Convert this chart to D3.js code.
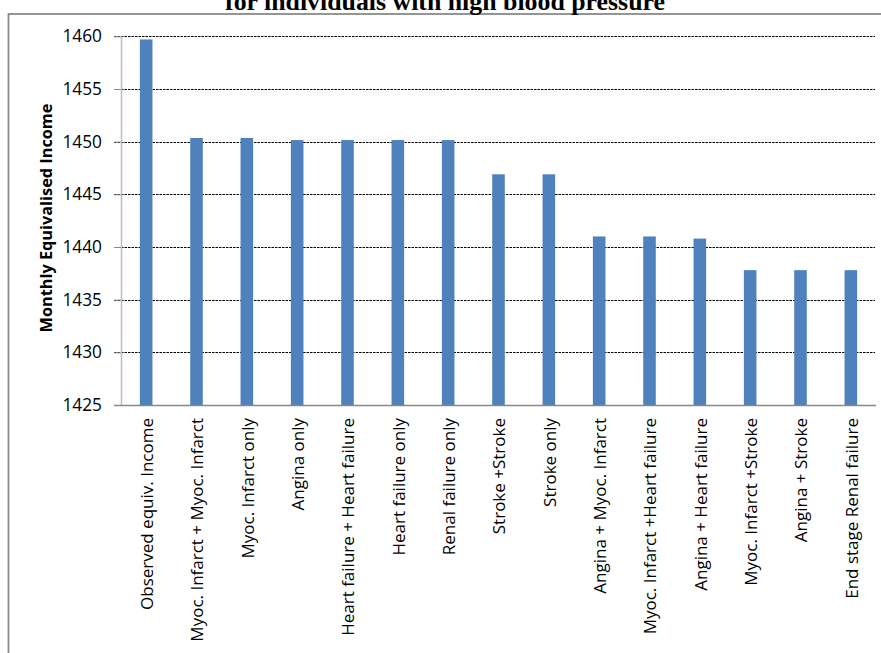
<!DOCTYPE html>
<html>
<head>
<meta charset="utf-8">
<script src="https://cdn.jsdelivr.net/npm/d3@7"></script>
<style>
  html, body { margin: 0; padding: 0; background: #fff; overflow: hidden; }
  svg { display: block; }
</style>
</head>
<body>
<script>
const categories = [
  "Observed equiv. Income",
  "Myoc. Infarct + Myoc. Infarct",
  "Myoc. Infarct only",
  "Angina only",
  "Heart failure + Heart failure",
  "Heart failure only",
  "Renal failure only",
  "Stroke +Stroke",
  "Stroke only",
  "Angina + Myoc. Infarct",
  "Myoc. Infarct +Heart failure",
  "Angina + Heart failure",
  "Myoc. Infarct +Stroke",
  "Angina + Stroke",
  "End stage Renal failure"
];
const incomeValues = [1459.7, 1450.35, 1450.35, 1450.15, 1450.15, 1450.15, 1450.15, 1446.9, 1446.9, 1441.0, 1441.0, 1440.8, 1437.8, 1437.8, 1437.8];
const yTicks = [1425, 1430, 1435, 1440, 1445, 1450, 1455, 1460];
const titleText = "for individuals with high blood pressure";
const yAxisTitle = "Monthly Equivalised Income";

const W = 881, H = 653;
const svg = d3.select("body").append("svg").attr("width", W).attr("height", H);

// chart border
svg.append("rect").attr("x", 8.5).attr("y", 14).attr("width", 900).attr("height", 700)
  .attr("fill", "none").attr("stroke", "#8a8a8a").attr("stroke-width", 1.8);

const plot = { left: 121, right: 876, top: 36.3, bottom: 405 };

const x = d3.scaleBand().domain(categories).range([plot.left, plot.right]).paddingInner(0.75).paddingOuter(0.375);
const y = d3.scaleLinear().domain([1425, 1460]).range([plot.bottom, plot.top]);

function fitSize(text, family, weight, target) {
  const p = svg.append("text").attr("font-family", family).attr("font-weight", weight).attr("font-size", 100).text(text);
  const s = 100 * target / p.node().getComputedTextLength();
  p.remove();
  return s;
}

// gridlines
svg.append("g").selectAll("line").data(yTicks.filter(t => t !== 1425)).join("line")
  .attr("x1", plot.left - 7).attr("x2", plot.right - 1)
  .attr("y1", d => Math.round(y(d)) + 0.5).attr("y2", d => Math.round(y(d)) + 0.5)
  .attr("stroke", "#000").attr("stroke-width", 1).attr("stroke-dasharray", "2.5,1");

// y axis
const tickFont = "'Open Sans', sans-serif";
const tickSize = fitSize("1460", tickFont, "normal", 39.5);
const yAxis = svg.append("g").attr("transform", `translate(${plot.left},0)`)
  .call(d3.axisLeft(y).tickValues(yTicks).tickSize(7).tickPadding(12).tickFormat(d3.format("d")));
yAxis.select(".domain").remove();
yAxis.selectAll(".tick line").attr("stroke", "#888");
yAxis.selectAll(".tick text").attr("font-family", tickFont).attr("font-size", tickSize).attr("fill", "#000");
svg.append("line").attr("x1", plot.left + 0.5).attr("x2", plot.left + 0.5)
  .attr("y1", plot.top).attr("y2", plot.bottom).attr("stroke", "#bdbdbd").attr("stroke-width", 1.5);

// bars
svg.append("g").selectAll("rect").data(categories).join("rect")
  .attr("x", d => x(d)).attr("width", x.bandwidth())
  .attr("y", (d, i) => y(incomeValues[i]))
  .attr("height", (d, i) => y(1425) - y(incomeValues[i]))
  .attr("fill", "#4F81BD");

// baseline
svg.append("line").attr("x1", plot.left - 7).attr("x2", plot.right)
  .attr("y1", plot.bottom + 0.5).attr("y2", plot.bottom + 0.5).attr("stroke", "#888").attr("stroke-width", 1.3);

// category labels
const labelFont = "'Open Sans', sans-serif";
const labelSize = fitSize(categories[0], labelFont, "normal", 192);
svg.append("g").selectAll("text").data(categories).join("text")
  .attr("transform", d => `translate(${x(d) + x.bandwidth() / 2 + 1},418) rotate(-90)`)
  .attr("text-anchor", "end").attr("dy", "0.35em")
  .attr("font-family", labelFont).attr("font-size", labelSize).attr("fill", "#000")
  .text(d => d);

// y axis title
const ytSize = fitSize(yAxisTitle, "'Open Sans', sans-serif", "bold", 229);
svg.append("text").attr("font-family", "'Open Sans', sans-serif").attr("font-weight", "bold")
  .attr("font-size", ytSize).attr("text-anchor", "middle")
  .attr("transform", "translate(46,218) rotate(-90)").attr("dy", "0.35em")
  .text(yAxisTitle);

// title (its upper part is cut off at the top edge in the reference)
const ttSize = fitSize(titleText, "'Liberation Serif', serif", "bold", 440);
svg.append("text").attr("font-family", "'Liberation Serif', serif").attr("font-weight", "bold")
  .attr("font-size", ttSize).attr("text-anchor", "middle").attr("x", 445).attr("y", 10)
  .text(titleText);
</script>
</body>
</html>
